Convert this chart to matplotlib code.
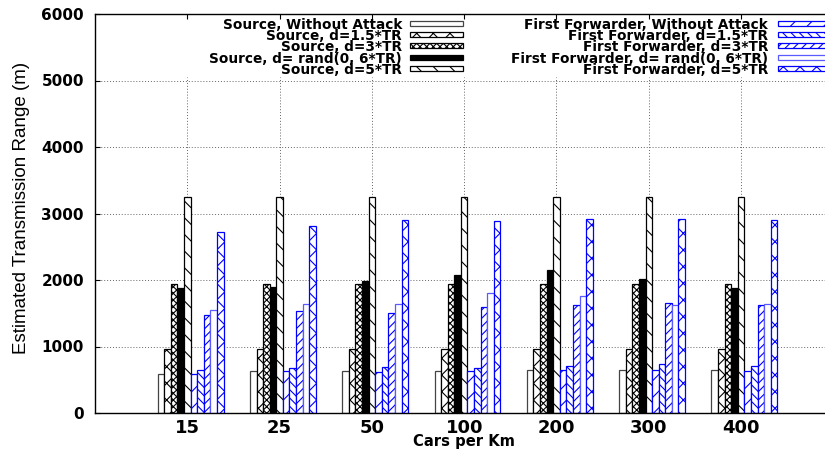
import matplotlib.pyplot as plt
from matplotlib.patches import Rectangle
import numpy as np

plt.rcParams['hatch.linewidth'] = 0.8

# vehicle density (cars per km)
kepadatan = ['15', '25', '50', '100', '200', '300', '400']

# estimated transmission range (m) reported by the source
src_normal = [590, 630, 630, 630, 640, 640, 640]
src_d15 = [965, 965, 965, 965, 965, 965, 965]
src_d3 = [1945, 1945, 1945, 1945, 1945, 1945, 1945]
src_rand = [1880, 1895, 1990, 2070, 2150, 2010, 1880]
src_d5 = [3245, 3245, 3245, 3245, 3245, 3245, 3245]

# estimated transmission range (m) reported by the first forwarder
ff_normal = [590, 627, 622, 627, 642, 642, 627]
ff_d15 = [642, 681, 687, 681, 702, 737, 702]
ff_d3 = [1469, 1534, 1504, 1599, 1620, 1649, 1620]
ff_rand = [1544, 1644, 1634, 1805, 1754, 1620, 1644]
ff_d5 = [2727, 2807, 2897, 2883, 2912, 2912, 2907]

label_src = ['Source, Without Attack', 'Source, d=1.5*TR', 'Source, d=3*TR',
             'Source, d= rand(0, 6*TR)', 'Source, d=5*TR']
label_ff = ['First Forwarder, Without Attack', 'First Forwarder, d=1.5*TR',
            'First Forwarder, d=3*TR', 'First Forwarder, d= rand(0, 6*TR)',
            'First Forwarder, d=5*TR']

seri = [src_normal, src_d15, src_d3, src_rand, src_d5,
        ff_normal, ff_d15, ff_d3, ff_rand, ff_d5]
label = label_src + label_ff

biru = '#0000ff'
gaya = [
    dict(facecolor='white', edgecolor='#444444', hatch=None),
    dict(facecolor='white', edgecolor='black', hatch='xx'),
    dict(facecolor='white', edgecolor='black', hatch='xxxxx'),
    dict(facecolor='black', edgecolor='black', hatch=None),
    dict(facecolor='white', edgecolor='black', hatch='\\\\'),
    dict(facecolor='white', edgecolor=biru, hatch='//'),
    dict(facecolor='white', edgecolor=biru, hatch='\\\\\\\\'),
    dict(facecolor='white', edgecolor=biru, hatch='////'),
    dict(facecolor='white', edgecolor='#5a5aff', hatch=None),
    dict(facecolor='white', edgecolor=biru, hatch='xx'),
]

W, H = 825, 454
fig = plt.figure(figsize=(W / 100, H / 100), dpi=100)
ax = fig.add_axes([95 / W, 41 / H, 738.4 / W, 399 / H])

x = np.arange(1, len(kepadatan) + 1)
lebar = 1 / 14
for k in range(10):
    ax.bar(x + (k - 4) * lebar, seri[k], lebar, linewidth=0.9, zorder=2, **gaya[k])

ax.set_xlim(0, 8)
ax.set_ylim(0, 6000)
ax.set_xticks(x)
ax.set_xticklabels(kepadatan, fontsize=13, fontweight='bold')
ax.set_yticks(np.arange(0, 6001, 1000))
ax.tick_params(axis='y', labelsize=11, direction='in', length=3.5, pad=8)
ax.tick_params(axis='x', direction='in', length=3.5, pad=4, top=True)
for t in ax.get_yticklabels():
    t.set_fontweight('bold')

# dotted grid; vertical lines stop under the key
ax.set_axisbelow(True)
ax.yaxis.grid(True, linestyle=(0, (1, 2)), color='#666666', linewidth=0.7)
ax.vlines(x, 0, 5050, linestyles=(0, (1, 2)), colors='#666666', linewidth=0.7, zorder=0.5)

for s in ax.spines.values():
    s.set_linewidth(1.0)

ax.set_ylabel('Estimated Transmission Range (m)', fontsize=13.5, family='Liberation Sans')
ax.yaxis.set_label_coords(-0.1002, 0.514)
ax.yaxis.label.set_va('center')
ax.set_xlabel('Cars per Km', fontsize=10.6, fontweight='bold')
ax.xaxis.set_label_coords(0.5, -0.072)
ax.xaxis.label.set_va('center')

# key: two columns, text right-justified next to its swatch
baris_y = [23.5, 34.5, 45.7, 57.2, 68.7]
kolom = [(402, 410), (768, 778)]
for c in range(2):
    teks_x, kotak_x = kolom[c]
    for r in range(5):
        k = c * 5 + r
        yy = baris_y[r]
        fig.text(teks_x / W, 1 - yy / H, label[k], ha='right', va='center_baseline',
                 fontsize=9.8, fontweight='bold')
        fig.add_artist(Rectangle((kotak_x / W, 1 - (yy + 2.5) / H), 53 / W, 5 / H,
                                 transform=fig.transFigure, linewidth=0.9, **gaya[k]))

fig.savefig('out.png', dpi=100)
